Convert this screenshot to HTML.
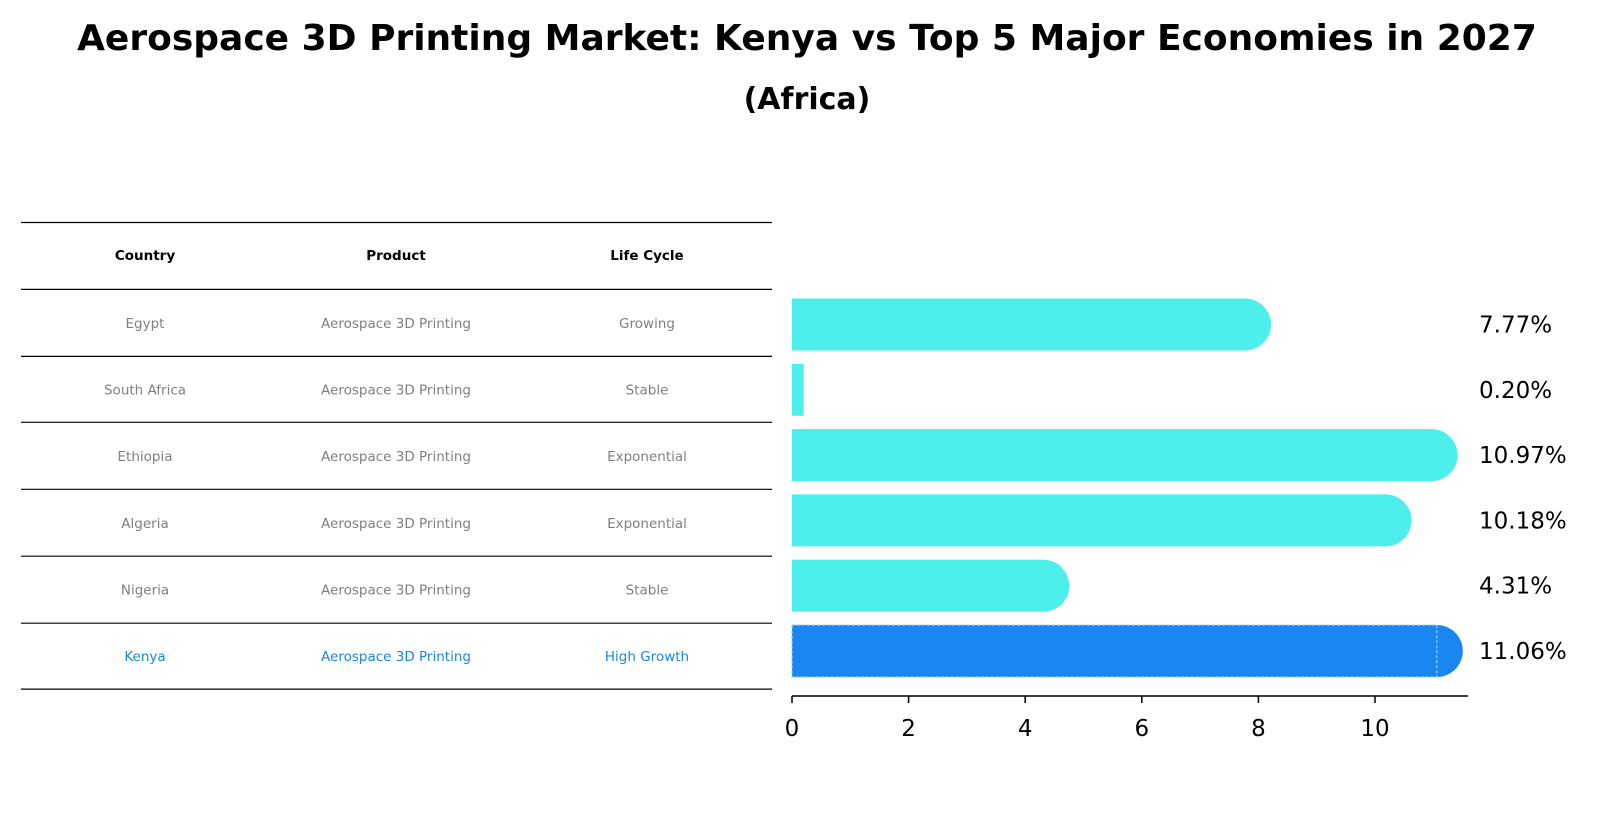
<!DOCTYPE html>
<html><head><meta charset="utf-8"><style>
body{margin:0;background:#fff;font-family:"Liberation Sans","DejaVu Sans",sans-serif;}
svg{display:block}
</style></head><body>
<svg width="1615" height="823">
<text x="807" y="50" text-anchor="middle" font-size="36" font-weight="bold" font-family="DejaVu Sans,Liberation Sans,sans-serif">Aerospace 3D Printing Market: Kenya vs Top 5 Major Economies in 2027</text>
<text x="807" y="109" text-anchor="middle" font-size="30" font-weight="bold" font-family="DejaVu Sans,Liberation Sans,sans-serif">(Africa)</text>
<g id="table"></g>
<g id="bars"></g>
</svg>
<script>
const countries=["Egypt","South Africa","Ethiopia","Algeria","Nigeria","Kenya"];
const products=["Aerospace 3D Printing","Aerospace 3D Printing","Aerospace 3D Printing","Aerospace 3D Printing","Aerospace 3D Printing","Aerospace 3D Printing"];
const lifeCycles=["Growing","Stable","Exponential","Exponential","Stable","High Growth"];
const values=[7.77,0.20,10.97,10.18,4.31,11.06];
const valueLabels=["7.77%","0.20%","10.97%","10.18%","4.31%","11.06%"];
const ticks=[0,2,4,6,8,10];
const NS="http://www.w3.org/2000/svg";
function mk(tag,attrs,parent,text){const e=document.createElementNS(NS,tag);for(const k in attrs)e.setAttribute(k,attrs[k]);if(text!==undefined)e.textContent=text;parent.appendChild(e);return e;}
const tbl=document.getElementById('table');
const lineYs=[222.5,289.4,356.4,422.3,489.3,556.2,623.2,689.1];
const colX=[145,396,647];
lineYs.forEach(y=>{const l=mk('line',{x1:21,x2:772,y1:y,y2:y,stroke:'#000','stroke-width':1.2},tbl);

});
["Country","Product","Life Cycle"].forEach((h,i)=>{const t=mk('text',{x:colX[i],y:260,'text-anchor':'middle','font-size':13.5,'font-weight':'bold','font-family':'DejaVu Sans,sans-serif'},tbl,h);

});
countries.forEach((c,r)=>{const y=(lineYs[r+1]+lineYs[r+2])/2+5;const col=r===5?'#1a86e0':'#808080';
[c,products[r],lifeCycles[r]].forEach((v,i)=>{const t=mk('text',{x:colX[i],y:y,'text-anchor':'middle','font-size':13.5,fill:col,'font-family':'DejaVu Sans,sans-serif'},tbl,v);

});});
const g=document.getElementById('bars');
const x0=792,ppu=58.3;const xs=v=>x0+v*ppu;
const yc=i=>324.5+i*65.3;const bh=52;
values.forEach((v,i)=>{const kenya=i===5;const fill=kenya?'#1a86f2':'#4cefe9';
const r=mk('rect',{x:x0,y:yc(i)-bh/2,width:xs(v)-x0,height:bh,fill:fill},g);


if(v>1){const c=mk('circle',{cx:xs(v),cy:yc(i),r:bh/2,fill:fill},g);

}
if(kenya){const b=mk('rect',{x:x0,y:yc(i)-bh/2,width:xs(v)-x0,height:bh,fill:'none',stroke:'#9ad0ff','stroke-width':1.2,'stroke-dasharray':'3 2'},g);

}
const t=mk('text',{x:1479,y:yc(i)+8,'font-size':23,'font-family':'DejaVu Sans,sans-serif'},g,valueLabels[i]);

});
const ax=mk('line',{x1:x0,x2:1468,y1:696,y2:696,stroke:'#000','stroke-width':1.5},g);


ticks.forEach(v=>{const tl=mk('line',{x1:xs(v),x2:xs(v),y1:696,y2:703,stroke:'#000','stroke-width':1.5},g);


const t=mk('text',{x:xs(v),y:736,'text-anchor':'middle','font-size':23,'font-family':'DejaVu Sans,sans-serif'},g,String(v));

});
</script>
</body></html>
